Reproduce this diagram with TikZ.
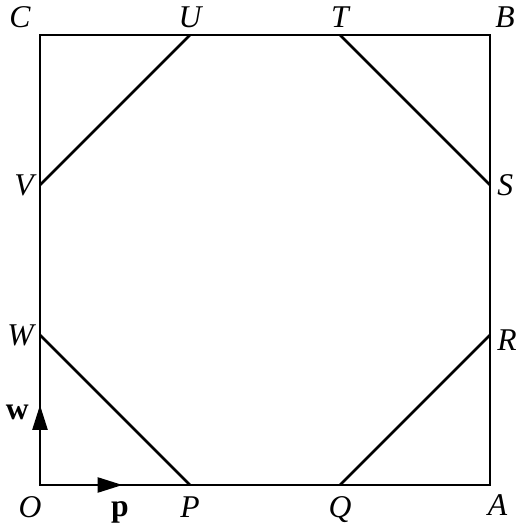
\documentclass[tikz,border=0pt]{standalone}
\usepackage{fontspec}
\setmainfont{Liberation Serif}
\usetikzlibrary{arrows.meta, positioning}

\begin{document}
\begin{tikzpicture}[line width=1.5pt]
 \tikzstyle{lbl}=[inner sep=0pt,font=\fontsize{18}{20}\selectfont\itshape]
 \tikzstyle{veclbl}=[inner sep=0pt,font=\fontsize{18}{20}\selectfont\bfseries]
 \tikzstyle{vec}=[-{Triangle[length=0.5cm,width=0.3cm]}]
 \useasboundingbox (-0.8,-0.78) rectangle (9.5,9.7);
 % corners of the square
 \coordinate (o) at (0,0);
 \coordinate (a) at (9,0);
 \coordinate (b) at (9,9);
 \coordinate (c) at (0,9);
 % points on the sides
 \coordinate (p) at (3,0);
 \coordinate (q) at (6,0);
 \coordinate (r) at (9,3);
 \coordinate (s) at (9,6);
 \coordinate (t) at (6,9);
 \coordinate (u) at (3,9);
 \coordinate (v) at (0,6);
 \coordinate (w) at (0,3);
 \coordinate (pv) at (1.65,0);
 \coordinate (wv) at (0,1.6);
 \draw (o) -- (a) -- (b) -- (c) -- cycle;
 \draw (w) -- (p);
 \draw (q) -- (r);
 \draw (s) -- (t);
 \draw (u) -- (v);
 \draw[vec] (o) -- (pv);
 \draw[vec] (o) -- (wv);
 % labels
 \node (lo) [lbl,below=0.2cm of o,xshift=-0.2cm] {O};
 \node (lp) [lbl,below=0.2cm of p] {P};
 \node (lq) [lbl,below=0.2cm of q] {Q};
 \node (la) [lbl,below=0.16cm of a,xshift=0.15cm] {A};
 \node (lr) [lbl,right=0.12cm of r,yshift=-0.1cm] {R};
 \node (ls) [lbl,right=0.12cm of s] {S};
 \node (lb) [lbl,above=0.12cm of b,xshift=0.3cm] {B};
 \node (lt) [lbl,above=0.12cm of t] {T};
 \node (lu) [lbl,above=0.12cm of u] {U};
 \node (lc) [lbl,above=0.12cm of c,xshift=-0.4cm] {C};
 \node (lv) [lbl,left=0.1cm of v] {V};
 \node (lw) [lbl,left=0.1cm of w] {W};
 \node (lpv) [veclbl,below=0.3cm of pv,xshift=-0.05cm] {p};
 \node (lwv) [veclbl,left=0.2cm of wv,yshift=-0.15cm] {w};
\end{tikzpicture}
\end{document}
